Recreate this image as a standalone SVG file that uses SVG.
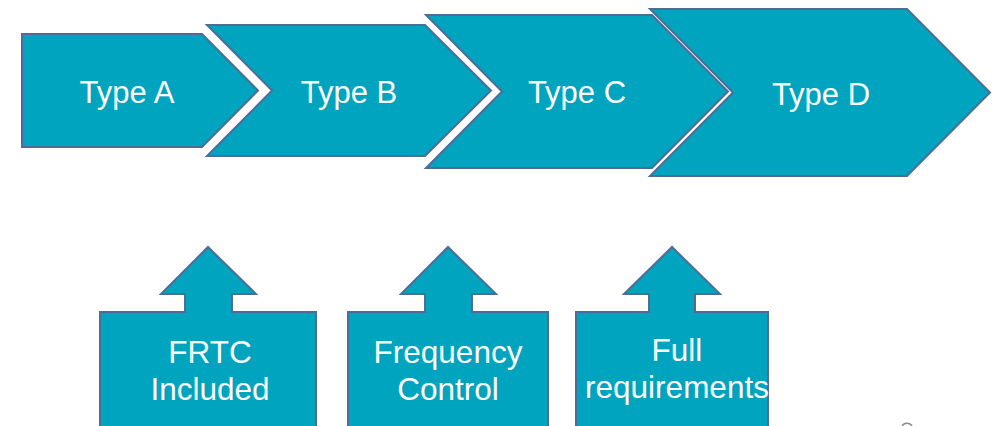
<svg xmlns="http://www.w3.org/2000/svg" width="1000" height="426" viewBox="0 0 1000 426">
  <style>
    .shape { fill: #00A4BF; stroke: #4E6C98; stroke-width: 2; stroke-linejoin: miter; }
    .label { fill: #FFFFFF; font-family: "Liberation Sans", Arial, sans-serif; font-size: 31.5px; text-anchor: middle; }
    .stage { font-size: 31px; }
  </style>
  <rect width="1000" height="426" fill="#FFFFFF"/>

  <!-- process chevrons, drawn back to front so each overlaps the previous one -->
  <g id="type-d">
    <polygon class="shape" points="650,9 907,9 990,92.5 907,176 650,176 733,92.5"/>
    <text class="label stage" x="821" y="105">Type D</text>
  </g>
  <g id="type-c">
    <polygon class="shape" points="426,15 652,15 728,91.5 652,168 426,168 502,91.5"/>
    <text class="label stage" x="577" y="103">Type C</text>
  </g>
  <g id="type-b">
    <polygon class="shape" points="207,25 425,25 491,90.5 425,156 207,156 272,90.5"/>
    <text class="label stage" x="349" y="103">Type B</text>
  </g>
  <g id="type-a">
    <polygon class="shape" points="22,34 202,34 258,90.5 202,147 22,147"/>
    <text class="label stage" x="127" y="103">Type A</text>
  </g>

  <!-- up-arrow callouts -->
  <g id="frtc-included">
    <polygon class="shape" points="100,440 100,312 185,312 185,294 161,294 208,247 256,294 232,294 232,312 316,312 316,440"/>
    <text class="label" x="210" y="363">FRTC</text>
    <text class="label" x="210" y="400">Included</text>
  </g>
  <g id="frequency-control">
    <polygon class="shape" points="348,440 348,312 425,312 425,294 401,294 448,247 496,294 472,294 472,312 548,312 548,440"/>
    <text class="label" x="448" y="363">Frequency</text>
    <text class="label" x="448" y="400">Control</text>
  </g>
  <g id="full-requirements">
    <polygon class="shape" points="576,440 576,312 649,312 649,294 624,294 672,247 720,294 695,294 695,312 768,312 768,440"/>
    <text class="label" x="677" y="361">Full</text>
    <text class="label" x="677" y="398">requirements</text>
  </g>

  <!-- no connectors between nodes; arrows are part of the shapes -->
  <g id="connectors"></g>

  <!-- small clipped mark at the lower edge -->
  <path d="M902,426 A6,6 0 0 1 912,426" fill="none" stroke="#8A8A8A" stroke-width="1.5"/>
</svg>
